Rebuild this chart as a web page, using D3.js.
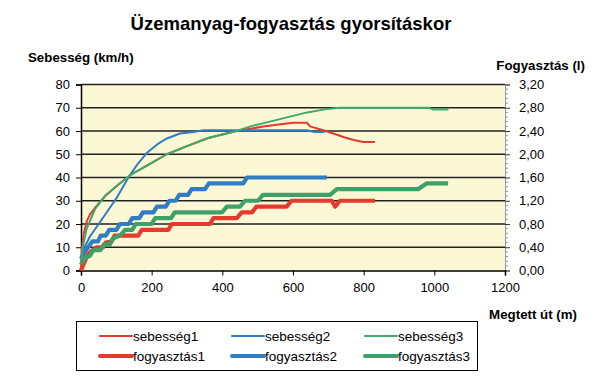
<!DOCTYPE html>
<html><head><meta charset="utf-8">
<script src="https://cdn.jsdelivr.net/npm/d3@7"></script>
<style>body{margin:0;background:#fff}svg{display:block}text{font-family:"Liberation Sans",Arial,sans-serif;fill:#000}</style>
</head><body>
<script>
const title = "Üzemanyag-fogyasztás gyorsításkor";
const leftTicks = [0,10,20,30,40,50,60,70,80];
const rightTicks = [0,0.4,0.8,1.2,1.6,2.0,2.4,2.8,3.2];
const xTicks = [0,200,400,600,800,1000,1200];
const seriesNames = ["sebesség1","sebesség2","sebesség3","fogyasztás1","fogyasztás2","fogyasztás3"];

// speed series (km/h) vs distance (m)
const seb1 = [[0,0],[3,10],[8,16],[16,21],[25,24],[40,27],[68,32],[106,37],[139,41],[185,45],[243,50],[300,53.5],[360,57],[440,60],[480,61],[520,62],[560,62.8],[600,63.5],[640,63.5],[648,62],[686,60.3],[714,58.9],[747,57.2],[775,56],[799,55.3],[832,55.3]];
const seb2 = [[0,5],[10,10],[25,14.5],[50,20],[75,25.5],[100,31],[134,40],[158,45.3],[186,50.5],[219,54.6],[243,56.8],[280,58.9],[318,59.6],[346,60.3],[640,60.3],[660,59.6],[690,59.6]];
const seb3 = [[0,3],[5,10],[16,18],[30,23],[40,26.5],[68,32],[106,37],[139,41],[185,45],[243,50],[300,53.5],[360,57],[440,60],[480,62],[520,63.5],[560,65],[600,66.5],[640,68],[690,69.3],[730,70],[985,70],[995,69.3],[1040,69.3]];
// fuel series (litres) vs distance (m)
const fogy1 = [[0,0],[10,0.15],[20,0.28],[30,0.34],[45,0.4],[63,0.4],[70,0.48],[87,0.5],[95,0.6],[162,0.6],[172,0.7],[247,0.7],[257,0.8],[365,0.8],[375,0.9],[441,0.9],[455,1.0],[484,1.0],[497,1.1],[582,1.1],[596,1.2],[710,1.2],[719,1.1],[733,1.2],[832,1.2]];
const fogy2 = [[0,0.2],[8,0.3],[20,0.4],[32,0.5],[48,0.5],[56,0.6],[70,0.6],[80,0.7],[100,0.7],[110,0.8],[135,0.8],[145,0.9],[165,0.9],[175,1.0],[205,1.0],[215,1.1],[240,1.1],[250,1.2],[268,1.2],[278,1.3],[303,1.3],[313,1.4],[351,1.4],[362,1.5],[459,1.5],[470,1.6],[696,1.6]];
const fogy3 = [[0,0.1],[8,0.2],[25,0.25],[35,0.35],[55,0.35],[65,0.45],[82,0.45],[90,0.55],[110,0.6],[125,0.7],[145,0.7],[155,0.8],[200,0.8],[210,0.9],[255,0.9],[265,1.0],[399,1.0],[413,1.1],[450,1.1],[464,1.2],[501,1.2],[515,1.3],[705,1.3],[724,1.4],[954,1.4],[979,1.5],[1039,1.5]];

const colors = ["#E63A2E","#2F7DC3","#3CAA6C","#E63A2E","#2F7DC3","#3CA26A"];

const W=601,H=381;
const svg=d3.select("body").append("svg").attr("width",W).attr("height",H);
const L=81,R=505,T=84.5,B=270.5;
const x=d3.scaleLinear().domain([0,1200]).range([L,R]);
const yl=d3.scaleLinear().domain([0,80]).range([B,T]);
const yr=d3.scaleLinear().domain([0,3.2]).range([B,T]);

svg.append("rect").attr("x",L).attr("y",T).attr("width",R-L).attr("height",B-T).attr("fill","#FCF8D6");

// gridlines
svg.append("g").selectAll("line").data(leftTicks.slice(1)).join("line")
  .attr("x1",L).attr("x2",R).attr("y1",d=>yl(d)).attr("y2",d=>yl(d))
  .attr("stroke","#222").attr("stroke-width",1.3);

// right axis
const ra=svg.append("g").attr("transform",`translate(${R},0)`)
  .call(d3.axisRight(yr).tickValues(rightTicks).tickSize(5).tickPadding(9).tickFormat(d=>d3.format(".2f")(d).replace(".",",")));
ra.select(".domain").attr("stroke","#999").attr("stroke-width",1);
ra.selectAll(".tick line").attr("stroke","#333");
ra.selectAll("text").attr("font-size",13).attr("fill","#222");
const minor=d3.range(0,3.2001,0.08).filter(v=>Math.abs(v/0.4-Math.round(v/0.4))>0.01);
svg.append("g").selectAll("line").data(minor).join("line")
  .attr("x1",R).attr("x2",R+3).attr("y1",d=>yr(d)).attr("y2",d=>yr(d)).attr("stroke","#999");

// left axis
const la=svg.append("g").attr("transform",`translate(${L},0)`)
  .call(d3.axisLeft(yl).tickValues(leftTicks).tickSize(5).tickPadding(6));
la.select(".domain").attr("stroke","#000").attr("stroke-width",1.5);
la.selectAll(".tick line").attr("stroke","#000");
la.selectAll("text").attr("font-size",13).attr("fill","#222");

// bottom axis
const ba=svg.append("g").attr("transform",`translate(0,${B})`)
  .call(d3.axisBottom(x).tickValues(xTicks).tickSize(5).tickPadding(7).tickFormat(d3.format("d")));
ba.select(".domain").attr("stroke","#000").attr("stroke-width",1.5);
ba.selectAll(".tick line").attr("stroke","#000");
ba.selectAll("text").attr("font-size",13).attr("fill","#222");

// series
const lineL=d3.line().x(d=>x(d[0])).y(d=>yl(d[1]));
const lineR=d3.line().x(d=>x(d[0])).y(d=>yr(d[1]));
const speeds=[seb1,seb2,seb3], fuels=[fogy1,fogy2,fogy3];
fuels.forEach((s,i)=>svg.append("path").datum(s).attr("d",lineR).attr("fill","none")
  .attr("stroke",colors[i+3]).attr("stroke-width",4.2).attr("stroke-linejoin","round"));
speeds.forEach((s,i)=>svg.append("path").datum(s).attr("d",lineL).attr("fill","none")
  .attr("stroke",colors[i]).attr("stroke-width",2).attr("stroke-linejoin","round"));

// texts
svg.append("text").attr("x",291).attr("y",30).attr("text-anchor","middle").attr("font-size",18.5).attr("font-weight","bold").text(title);
svg.append("text").attr("x",28).attr("y",62).attr("font-size",13.3).attr("font-weight","bold").text("Sebesség (km/h)");
svg.append("text").attr("x",585).attr("y",70).attr("text-anchor","end").attr("font-size",13.3).attr("font-weight","bold").text("Fogyasztás (l)");
svg.append("text").attr("x",577).attr("y",319).attr("text-anchor","end").attr("font-size",13.3).attr("font-weight","bold").text("Megtett út (m)");

// legend
const lg=svg.append("g");
lg.append("rect").attr("x",76.5).attr("y",321.5).attr("width",401).attr("height",49).attr("fill","#fff").attr("stroke","#000").attr("stroke-width",1);
const colX=[100,232,365], rowY=[336,356];
seriesNames.forEach((n,i)=>{
  const cx=colX[i%3], cy=rowY[Math.floor(i/3)];
  lg.append("line").attr("x1",cx).attr("x2",cx+32).attr("y1",cy).attr("y2",cy)
    .attr("stroke",colors[i]).attr("stroke-width",i<3?2:4).attr("stroke-linecap","round");
  lg.append("text").attr("x",cx+33).attr("y",cy+5).attr("font-size",13.5).attr("fill","#222").text(n);
});
</script>
</body></html>
